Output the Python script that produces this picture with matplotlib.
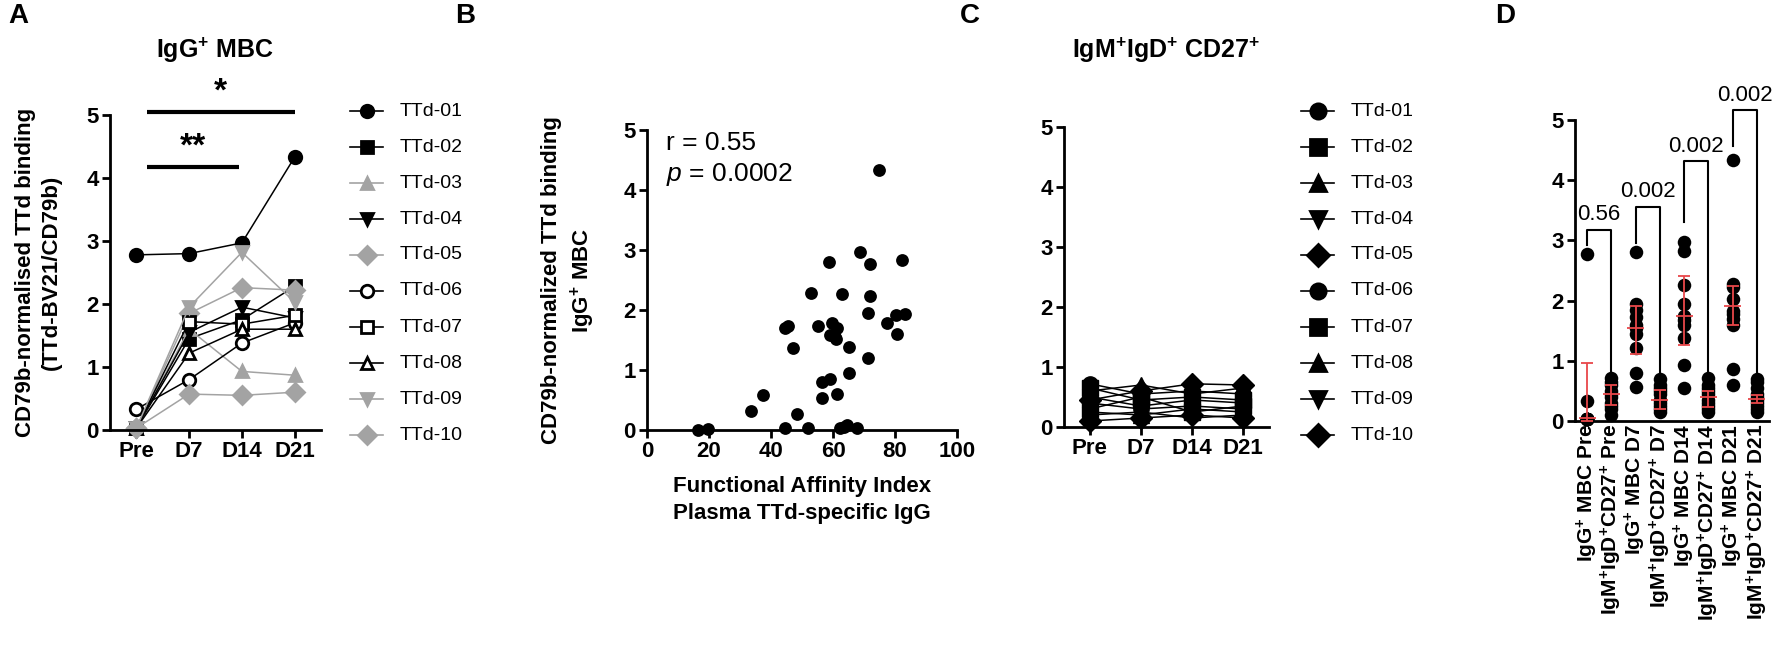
import numpy as np
import matplotlib.pyplot as plt
from matplotlib.lines import Line2D

plt.rcParams['font.family'] = ['Liberation Sans', 'DejaVu Sans']
plt.rcParams['mathtext.fontset'] = 'custom'
plt.rcParams['mathtext.rm'] = 'Liberation Sans'
plt.rcParams['mathtext.it'] = 'Liberation Sans:italic'
plt.rcParams['mathtext.bf'] = 'Liberation Sans:bold'

# figure size in pixels (dpi 100)
W, H = 1772, 650
GRAY = '#a3a3a3'
RED = '#e8474a'
SUP = r'$^{\mathbf{+}}$'

# ---- data ----
days = ['Pre', 'D7', 'D14', 'D21']
donors = ['TTd-01', 'TTd-02', 'TTd-03', 'TTd-04', 'TTd-05',
          'TTd-06', 'TTd-07', 'TTd-08', 'TTd-09', 'TTd-10']

# panel A: IgG+ MBC, values at Pre, D7, D14, D21
igg_01 = [2.78, 2.80, 2.97, 4.33]
igg_02 = [0.03, 1.45, 1.75, 2.28]
igg_03 = [0.03, 1.60, 0.93, 0.87]
igg_04 = [0.03, 1.55, 1.95, 1.78]
igg_05 = [0.03, 1.85, 2.26, 2.22]
igg_06 = [0.33, 0.80, 1.38, 1.70]
igg_07 = [0.03, 1.72, 1.68, 1.82]
igg_08 = [0.03, 1.22, 1.60, 1.60]
igg_09 = [0.03, 1.95, 2.82, 2.03]
igg_10 = [0.03, 0.57, 0.55, 0.60]
igg_all = [igg_01, igg_02, igg_03, igg_04, igg_05,
           igg_06, igg_07, igg_08, igg_09, igg_10]

# panel C: IgM+IgD+CD27+
igm_01 = [0.72, 0.55, 0.60, 0.55]
igm_02 = [0.65, 0.45, 0.50, 0.45]
igm_03 = [0.60, 0.70, 0.55, 0.65]
igm_04 = [0.50, 0.35, 0.45, 0.40]
igm_05 = [0.45, 0.60, 0.72, 0.70]
igm_06 = [0.40, 0.30, 0.35, 0.30]
igm_07 = [0.30, 0.50, 0.25, 0.35]
igm_08 = [0.25, 0.20, 0.30, 0.25]
igm_09 = [0.20, 0.25, 0.15, 0.20]
igm_10 = [0.10, 0.15, 0.20, 0.15]
igm_all = [igm_01, igm_02, igm_03, igm_04, igm_05,
           igm_06, igm_07, igm_08, igm_09, igm_10]

# panel B: affinity index vs binding
affinity = [16.5, 19.8, 33.4, 37.5, 44.5, 44.5, 45.5, 47.0, 48.4, 51.9,
            53.0, 55.0, 56.5, 56.5, 58.7, 59.0, 59.0, 59.7, 61.0, 61.2,
            61.2, 62.3, 62.8, 64.6, 65.0, 65.0, 67.7, 68.7, 71.9, 71.9,
            71.2, 71.3, 74.8, 77.4, 80.3, 80.6, 82.3, 83.2, 63.5, 60.5]
binding = [0.00, 0.02, 0.32, 0.58, 0.03, 1.70, 1.73, 1.37, 0.26, 0.03,
           2.28, 1.73, 0.53, 0.80, 2.80, 0.85, 1.58, 1.78, 1.52, 1.70,
           0.60, 0.03, 2.27, 0.08, 1.38, 0.95, 0.03, 2.97, 2.77, 2.23,
           1.95, 1.20, 4.33, 1.78, 1.92, 1.60, 2.83, 1.93, 0.05, 1.55]

# panel D: median and IQR (red bars)
d_labels = ['IgG' + SUP + ' MBC Pre', 'IgM' + SUP + 'IgD' + SUP + 'CD27' + SUP + ' Pre',
            'IgG' + SUP + ' MBC D7', 'IgM' + SUP + 'IgD' + SUP + 'CD27' + SUP + ' D7',
            'IgG' + SUP + ' MBC D14', 'IgM' + SUP + 'IgD' + SUP + 'CD27' + SUP + ' D14',
            'IgG' + SUP + ' MBC D21', 'IgM' + SUP + 'IgD' + SUP + 'CD27' + SUP + ' D21']
d_median = [0.05, 0.45, 1.54, 0.35, 1.74, 0.40, 1.91, 0.37]
d_low = [0.00, 0.26, 1.11, 0.20, 1.26, 0.23, 1.59, 0.30]
d_high = [0.97, 0.59, 1.91, 0.52, 2.41, 0.50, 2.24, 0.43]
p_labels = ['0.56', '0.002', '0.002', '0.002']
bracket_top = [3.18, 3.56, 4.32, 5.16]
bracket_left = [2.93, 2.95, 3.30, 4.57]
bracket_right = [0.82, 0.82, 0.82, 0.82]

# marker styles per donor (marker, colour, filled)
styles_a = [('o', 'k', True), ('s', 'k', True), ('^', GRAY, True), ('v', 'k', True),
            ('D', GRAY, True), ('o', 'k', False), ('s', 'k', False), ('^', 'k', False),
            ('v', GRAY, True), ('D', GRAY, True)]
markers_c = ['o', 's', '^', 'v', 'D', 'o', 's', '^', 'v', 'D']


def px_axes(left, right, y0, y5):
    return fig.add_axes([left / W, 1 - y0 / H, (right - left) / W, (y0 - y5) / H])


def prism(ax, xticks=True):
    for s in ['top', 'right']:
        ax.spines[s].set_visible(False)
    for s in ['left', 'bottom']:
        ax.spines[s].set_linewidth(2)
    ax.tick_params(width=2, length=6, labelsize=16, pad=2)
    if not xticks:
        ax.tick_params(axis='x', length=0)
    ax.set_ylim(0, 5)
    ax.set_yticks(range(6))
    ax.set_yticklabels([str(v) for v in range(6)], fontweight='bold')


def legend_rows(x_mark, x_text, entries):
    for i, (name, m, c, face, ms) in enumerate(entries):
        y = 1 - (111 + 36 * i) / H
        fig.add_artist(Line2D([(x_mark - 17) / W, x_mark / W, (x_mark + 16) / W], [y, y, y],
                              transform=fig.transFigure, color=c, lw=1.2, marker=m,
                              markevery=[1], ms=ms, mfc=face, mec=c, mew=2))
        fig.text(x_text / W, y, name, fontsize=14, va='center', ha='left')


fig = plt.figure(figsize=(W / 100, H / 100), dpi=100)

# panel letters
for letter, x in zip('ABCD', [8, 455, 960, 1495]):
    fig.text(x / W, 1 - 3 / H, letter, fontsize=20, fontweight='bold', va='top', ha='left')

# ---- A ----
ax = px_axes(110, 321, 430, 115)
prism(ax)
xs = np.arange(len(days))
entries = []
for name, vals, (m, c, filled) in zip(donors, igg_all, styles_a):
    face = c if filled else 'white'
    ax.plot(xs, vals, color=c, lw=1.1, marker=m, ms=9, mfc=face, mec=c, mew=2, clip_on=False)
    entries.append((name, m, c, face, 9))
ax.set_xlim(-0.5, 3.5)
ax.set_xticks(xs)
ax.set_xticklabels(days, fontweight='bold')
ax.plot([0.2, 3.0], [5.04, 5.04], color='k', lw=3, clip_on=False, solid_capstyle='butt')
ax.text(1.6, 5.12, '*', ha='center', va='bottom', fontsize=24, fontweight='bold')
ax.plot([0.2, 1.95], [4.18, 4.18], color='k', lw=3, clip_on=False, solid_capstyle='butt')
ax.text(1.08, 4.24, '**', ha='center', va='bottom', fontsize=24, fontweight='bold')
legend_rows(367, 400, entries)
fig.text(215 / W, 1 - 50 / H, 'IgG' + SUP + ' MBC', fontsize=18, fontweight='bold',
         ha='center', va='center')
fig.text(38 / W, 1 - 272 / H, 'CD79b-normalised TTd binding\n(TTd-BV21/CD79b)',
         fontsize=16, fontweight='bold', rotation=90, ha='center', va='center',
         multialignment='center', linespacing=1.3)

# ---- B ----
ax = px_axes(647, 957, 430, 130)
prism(ax)
ax.scatter(affinity, binding, s=85, color='k', clip_on=False, zorder=3, linewidths=0)
ax.set_xlim(0, 100)
ax.set_xticks(range(0, 101, 20))
ax.set_xticklabels([str(v) for v in range(0, 101, 20)], fontweight='bold')
ax.text(6, 4.78, 'r = 0.55', fontsize=19, va='center')
ax.text(6, 4.25, '$p$ = 0.0002', fontsize=19, va='center')
fig.text(569 / W, 1 - 280 / H, 'CD79b-normalized TTd binding\nIgG' + SUP + ' MBC',
         fontsize=16, fontweight='bold', rotation=90, ha='center', va='center',
         multialignment='center', linespacing=1.3)
fig.text(802 / W, 1 - 500 / H, 'Functional Affinity Index\nPlasma TTd-specific IgG',
         fontsize=16, fontweight='bold', ha='center', va='center',
         multialignment='center', linespacing=1.4)

# ---- C ----
ax = px_axes(1064, 1269, 427, 127)
prism(ax)
entries = []
for name, vals, m in zip(donors, igm_all, markers_c):
    ax.plot(xs, vals, color='k', lw=1.1, marker=m, ms=11, mfc='k', mec='k', clip_on=False)
    entries.append((name, m, 'k', 'k', 11))
ax.set_xlim(-0.5, 3.5)
ax.set_xticks(xs)
ax.set_xticklabels(days, fontweight='bold')
legend_rows(1318, 1351, entries)
fig.text(1166 / W, 1 - 50 / H, 'IgM' + SUP + 'IgD' + SUP + ' CD27' + SUP, fontsize=18,
         fontweight='bold', ha='center', va='center')

# ---- D ----
ax = px_axes(1575, 1769, 421, 120)
prism(ax, xticks=False)
for i in range(len(days)):
    igg_vals = [v[i] for v in igg_all]
    igm_vals = [v[i] for v in igm_all]
    ax.scatter([2 * i] * len(igg_vals), igg_vals, s=95, color='k', linewidths=0,
               clip_on=False, zorder=2)
    ax.scatter([2 * i + 1] * len(igm_vals), igm_vals, s=95, color='k', linewidths=0,
               clip_on=False, zorder=2)
dx = np.arange(len(d_labels))
med = np.array(d_median)
ax.errorbar(dx, med, yerr=[med - np.array(d_low), np.array(d_high) - med], fmt='none',
            ecolor=RED, elinewidth=1.3, capsize=4, capthick=1.3, zorder=3, clip_on=False)
ax.hlines(med, dx - 0.35, dx + 0.35, color=RED, lw=1.3, zorder=3)
for i, lab in enumerate(p_labels):
    x0, x1 = 2 * i, 2 * i + 1
    ax.plot([x0, x0, x1, x1], [bracket_left[i], bracket_top[i], bracket_top[i], bracket_right[i]],
            color='k', lw=1.5, clip_on=False)
    ax.text((x0 + x1) / 2, bracket_top[i] + 0.07, lab, ha='center', va='bottom', fontsize=16)
ax.set_xlim(-0.5, 7.5)
ax.set_xticks(dx)
ax.set_xticklabels(d_labels, rotation=90, fontweight='bold', fontsize=15)

fig.savefig('out.png', dpi=100)
